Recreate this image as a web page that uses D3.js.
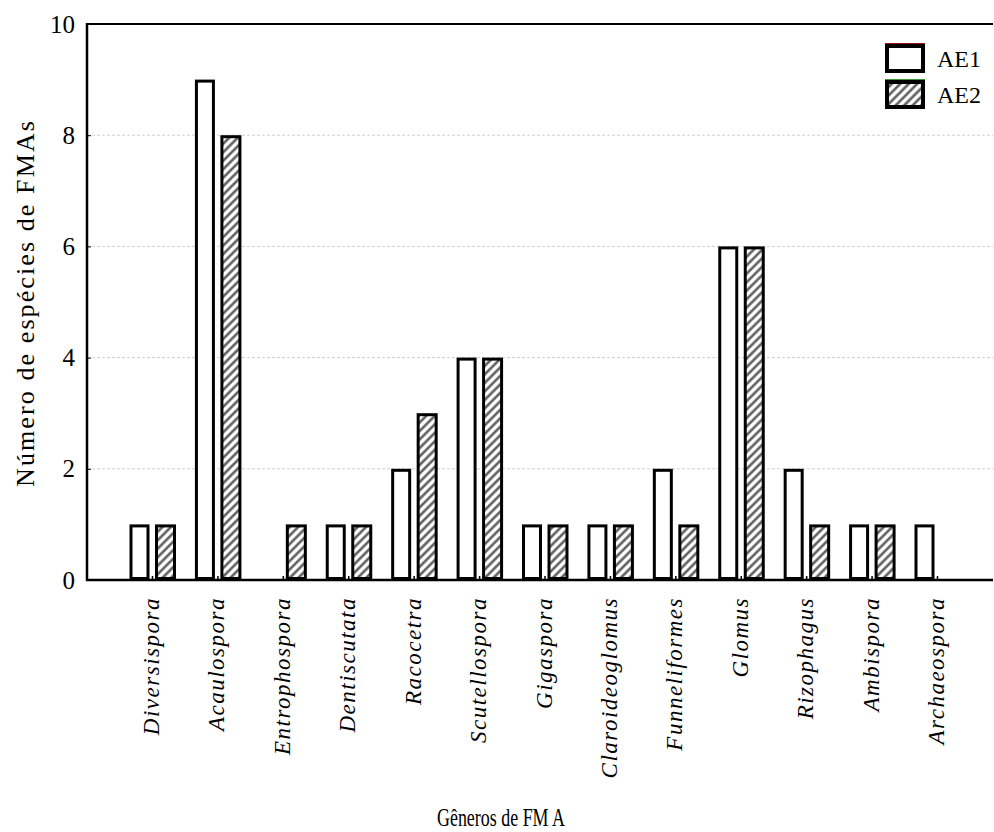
<!DOCTYPE html>
<html>
<head>
<meta charset="utf-8">
<title>Gêneros de FMA</title>
<script src="https://d3js.org/d3.v7.min.js"></script>
<style>
  body { margin: 0; background: #fff; }
  svg text { font-family: "Liberation Serif", "Times New Roman", serif; fill: #000; }
</style>
</head>
<body>
<svg id="chart"></svg>
<script>
// data
const genera = ["Diversispora", "Acaulospora", "Entrophospora", "Dentiscutata", "Racocetra",
  "Scutellospora", "Gigaspora", "Claroideoglomus", "Funneliformes", "Glomus",
  "Rizophagus", "Ambispora", "Archaeospora"];
const ae1 = [1, 9, 0, 1, 2, 4, 1, 1, 2, 6, 2, 1, 1];
const ae2 = [1, 8, 1, 1, 3, 4, 1, 1, 1, 6, 1, 1, 0];
const yTicks = [0, 2, 4, 6, 8, 10];
const seriesNames = ["AE1", "AE2"];

const W = 994, H = 832;
const plotL = 87, plotR = 993, plotT = 24, plotB = 580;

const svg = d3.select("#chart").attr("width", W).attr("height", H);

// hatch for AE2
const defs = svg.append("defs");
const pat = defs.append("pattern")
  .attr("id", "hatch")
  .attr("patternUnits", "userSpaceOnUse")
  .attr("width", 6).attr("height", 6)
  .attr("patternTransform", "rotate(45)");
pat.append("rect").attr("width", 6).attr("height", 6).attr("fill", "#fff");
pat.append("line").attr("x1", 1.5).attr("y1", 0).attr("x2", 1.5).attr("y2", 6)
  .attr("stroke", "#555").attr("stroke-width", 2.4);

const y = d3.scaleLinear().domain([0, 10]).range([plotB, plotT]);
const x = d3.scalePoint().domain(genera).range([152, 937]);

// grid lines
svg.append("g").selectAll("line")
  .data(yTicks.filter(t => t > 0 && t < 10))
  .join("line")
  .attr("x1", plotL).attr("x2", plotR)
  .attr("y1", d => y(d)).attr("y2", d => y(d))
  .attr("stroke", "#d0d0d0").attr("stroke-width", 1)
  .attr("stroke-dasharray", "3,2");

// y axis
const yAxis = svg.append("g")
  .attr("transform", `translate(${plotL},0)`)
  .call(d3.axisLeft(y).tickValues(yTicks).tickSizeInner(-4).tickSizeOuter(0).tickPadding(12));
yAxis.select(".domain").remove();
yAxis.selectAll(".tick line").attr("stroke", "#000").attr("stroke-width", 1);
yAxis.selectAll(".tick text")
  .style("font-family", "Liberation Serif, serif")
  .style("font-size", "25px");

// bars
const rows = genera.map((g, i) => ({ g, a: ae1[i], b: ae2[i] }));

svg.append("g").selectAll("rect")
  .data(rows.filter(d => d.a > 0))
  .join("rect")
  .attr("x", d => x(d.g) - 21)
  .attr("width", 17)
  .attr("y", d => y(d.a) + 1.5)
  .attr("height", d => plotB - y(d.a) - 3)
  .attr("fill", "#fff")
  .attr("stroke", "#000").attr("stroke-width", 3);

svg.append("g").selectAll("rect")
  .data(rows.filter(d => d.b > 0))
  .join("rect")
  .attr("x", d => x(d.g) + 4.5)
  .attr("width", 18)
  .attr("y", d => y(d.b) + 1.5)
  .attr("height", d => plotB - y(d.b) - 3)
  .attr("fill", "url(#hatch)")
  .attr("stroke", "#000").attr("stroke-width", 3);

// x axis: small inward ticks at category centres
const xAxis = svg.append("g")
  .attr("transform", `translate(0,${plotB})`)
  .call(d3.axisBottom(x).tickSizeInner(-4).tickSizeOuter(0).tickFormat(""));
xAxis.select(".domain").remove();
xAxis.selectAll(".tick line").attr("stroke", "#000").attr("stroke-width", 1.5);

// frame lines: left, top, bottom
svg.append("line").attr("x1", plotL).attr("x2", plotL).attr("y1", plotT - 1).attr("y2", plotB + 1)
  .attr("stroke", "#000").attr("stroke-width", 2.5);
svg.append("line").attr("x1", plotL - 1).attr("x2", plotR).attr("y1", plotT).attr("y2", plotT)
  .attr("stroke", "#000").attr("stroke-width", 2);
svg.append("line").attr("x1", plotL - 1).attr("x2", plotR).attr("y1", plotB).attr("y2", plotB)
  .attr("stroke", "#000").attr("stroke-width", 2.5);

// category labels
svg.append("g").selectAll("text")
  .data(genera)
  .join("text")
  .attr("transform", d => `translate(${x(d) + 7},597) rotate(-90)`)
  .attr("text-anchor", "end")
  .style("font-size", "23px")
  .style("font-style", "italic")
  .style("letter-spacing", "1.5px")
  .text(d => d);

// axis titles
svg.append("text")
  .attr("transform", "translate(34,303) rotate(-90)")
  .attr("text-anchor", "middle")
  .style("font-size", "26px")
  .style("letter-spacing", "2.1px")
  .text("Número de espécies de FMAs");

svg.append("text")
  .attr("x", 437).attr("y", 826)
  .attr("textLength", 128)
  .attr("lengthAdjust", "spacingAndGlyphs")
  .style("font-size", "25px")
  .text("Gêneros de FM A");

// legend
const legend = svg.append("g").selectAll("g")
  .data(seriesNames)
  .join("g")
  .attr("transform", (d, i) => `translate(885,${44 + i * 36})`);
legend.append("rect")
  .attr("x", 2).attr("y", 2).attr("width", 36).attr("height", 25)
  .attr("fill", (d, i) => i === 0 ? "#fff" : "url(#hatch)")
  .attr("stroke", "#000").attr("stroke-width", 4);
legend.append("line")
  .attr("x1", 0).attr("x2", 40).attr("y1", -0.5).attr("y2", -0.5)
  .attr("stroke", (d, i) => i === 0 ? "#a01010" : "#3a9a3a").attr("stroke-width", 1.2);
legend.append("text")
  .attr("x", 52).attr("y", 15).attr("dy", "0.35em")
  .style("font-size", "24px")
  .text(d => d);
</script>
</body>
</html>
